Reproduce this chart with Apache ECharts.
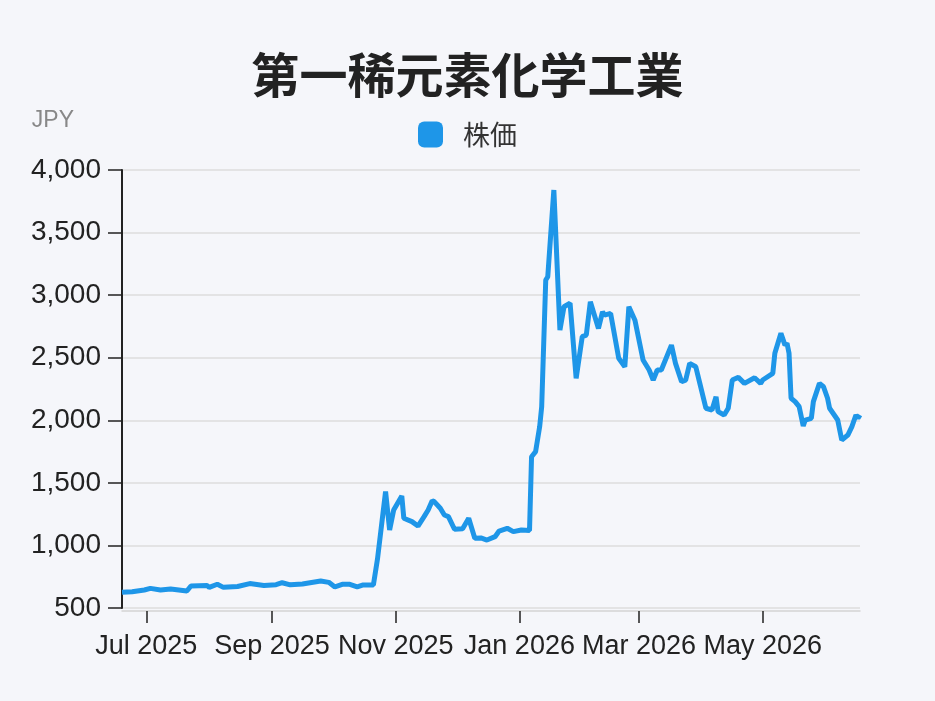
<!DOCTYPE html>
<html>
<head>
<meta charset="utf-8">
<script src="https://cdn.jsdelivr.net/npm/echarts@6/dist/echarts.min.js"></script>
<style>
  html, body { margin: 0; padding: 0; background: #f5f6fa; }
  #chart { width: 935px; height: 701px; }
</style>
</head>
<body>
<div id="chart"></div>
<script>
// 株価データ（日付と終値）
const dates = [
  '2025-06-19', '2025-06-24', '2025-06-30', '2025-07-03', '2025-07-08', '2025-07-13', '2025-07-21', '2025-07-23',
  '2025-07-31', '2025-08-01', '2025-08-05', '2025-08-08', '2025-08-15', '2025-08-21', '2025-08-28', '2025-09-03',
  '2025-09-06', '2025-09-10', '2025-09-16', '2025-09-25', '2025-09-29', '2025-10-02', '2025-10-06', '2025-10-09',
  '2025-10-13', '2025-10-16', '2025-10-21', '2025-10-23', '2025-10-27', '2025-10-29', '2025-10-31', '2025-11-04',
  '2025-11-05', '2025-11-09', '2025-11-12', '2025-11-15', '2025-11-17', '2025-11-19', '2025-11-20', '2025-11-23',
  '2025-11-25', '2025-11-27', '2025-11-30', '2025-12-04', '2025-12-07', '2025-12-10', '2025-12-13', '2025-12-16',
  '2025-12-20', '2025-12-22', '2025-12-26', '2025-12-29', '2026-01-02', '2026-01-06', '2026-01-07', '2026-01-09',
  '2026-01-11', '2026-01-12', '2026-01-14', '2026-01-15', '2026-01-18', '2026-01-21', '2026-01-23', '2026-01-26',
  '2026-01-29', '2026-02-01', '2026-02-03', '2026-02-05', '2026-02-09', '2026-02-11', '2026-02-12', '2026-02-15',
  '2026-02-19', '2026-02-22', '2026-02-24', '2026-02-27', '2026-03-03', '2026-03-06', '2026-03-08', '2026-03-10',
  '2026-03-12', '2026-03-17', '2026-03-19', '2026-03-22', '2026-03-24', '2026-03-26', '2026-03-29', '2026-03-31',
  '2026-04-03', '2026-04-06', '2026-04-08', '2026-04-09', '2026-04-12', '2026-04-14', '2026-04-16', '2026-04-19',
  '2026-04-22', '2026-04-27', '2026-04-30', '2026-05-01', '2026-05-06', '2026-05-07', '2026-05-10', '2026-05-12',
  '2026-05-13', '2026-05-14', '2026-05-15', '2026-05-17', '2026-05-19', '2026-05-21', '2026-05-22', '2026-05-25',
  '2026-05-26', '2026-05-29', '2026-05-31', '2026-06-02', '2026-06-03', '2026-06-07', '2026-06-09', '2026-06-12',
  '2026-06-14', '2026-06-16', '2026-06-17', '2026-06-18'
];
const prices = [
  625, 630, 644, 657, 644, 652, 636, 676,
  680, 665, 690, 665, 672, 695, 680, 686,
  702, 685, 692, 716, 705, 668, 690, 690,
  668, 684, 684, 890, 1430, 1123, 1283, 1395,
  1217, 1190, 1155, 1230, 1283, 1357, 1350, 1297,
  1243, 1230, 1129, 1134, 1217, 1057, 1060, 1043,
  1070, 1115, 1137, 1110, 1123, 1120, 1709, 1749,
  1949, 2108, 3121, 3147, 3840, 2721, 2907, 2935,
  2335, 2668, 2681, 2947, 2734, 2867, 2841, 2854,
  2495, 2428, 2907, 2800, 2482, 2402, 2322, 2402,
  2402, 2601, 2455, 2308, 2320, 2455, 2428, 2295,
  2096, 2082, 2188, 2069, 2042, 2096, 2322, 2343,
  2295, 2340, 2295, 2322, 2375, 2535, 2695, 2601,
  2615, 2535, 2176, 2149, 2109, 1954, 2002, 2016,
  2149, 2295, 2268, 2176, 2096, 2002, 1842, 1882,
  1949, 2042, 2016, 2042
];
const yTicks = { min: 500, max: 4000, interval: 500 };
const monthNames = ['Jan', 'Feb', 'Mar', 'Apr', 'May', 'Jun', 'Jul', 'Aug', 'Sep', 'Oct', 'Nov', 'Dec'];

const chart = echarts.init(document.getElementById('chart'));
const font = '"Liberation Sans", "Noto Sans CJK JP", sans-serif';

const option = {
  backgroundColor: '#f5f6fa',
  animation: false,
  textStyle: { fontFamily: font },
  title: {
    text: '第一稀元素化学工業',
    left: 'center',
    top: 46,
    textStyle: { fontSize: 48, fontWeight: 'bold', color: '#222', fontFamily: '"Noto Sans CJK JP", sans-serif' }
  },
  legend: {
    data: ['株価'],
    top: 116,
    left: 'center',
    itemWidth: 25,
    itemHeight: 26,
    icon: 'roundRect',
    textStyle: { fontSize: 27, color: '#333', padding: [0, 0, 0, 15], fontFamily: '"Noto Sans CJK JP", sans-serif' }
  },
  grid: { left: 122, right: 75, top: 170, bottom: 93 },
  xAxis: {
    type: 'time',
    min: 'dataMin',
    max: 'dataMax',
    offset: 3,
    axisLine: { lineStyle: { color: '#d4d4d4', width: 1.5 } },
    axisTick: { show: true, length: 12, lineStyle: { color: '#222', width: 1.5 } },
    axisLabel: {
      fontSize: 27,
      color: '#222',
      margin: 22,
      hideOverlap: false,
      formatter: function (val) {
        const d = new Date(val);
        return monthNames[d.getMonth()] + ' ' + d.getFullYear();
      }
    },
    splitLine: { show: false }
  },
  yAxis: {
    type: 'value',
    min: yTicks.min,
    max: yTicks.max,
    interval: yTicks.interval,
    name: 'JPY',
    nameLocation: 'end',
    nameGap: 38,
    nameTextStyle: { fontSize: 23, color: '#888', align: 'right', padding: [0, 48, 0, 0] },
    axisLine: { show: true, lineStyle: { color: '#222', width: 2 } },
    axisTick: { show: true, length: 14, lineStyle: { color: '#222', width: 1.5 } },
    axisLabel: {
      fontSize: 28,
      color: '#222',
      margin: 21,
      formatter: function (v) { return v.toLocaleString('en-US'); }
    },
    splitLine: { lineStyle: { color: '#dcdcdc', width: 1.5 } }
  },
  series: [{
    name: '株価',
    type: 'line',
    data: dates.map((d, i) => [d, prices[i]]),
    showSymbol: false,
    lineStyle: { color: '#1e96e8', width: 5 },
    itemStyle: { color: '#1e96e8' }
  }]
};

chart.setOption(option);
</script>
</body>
</html>
